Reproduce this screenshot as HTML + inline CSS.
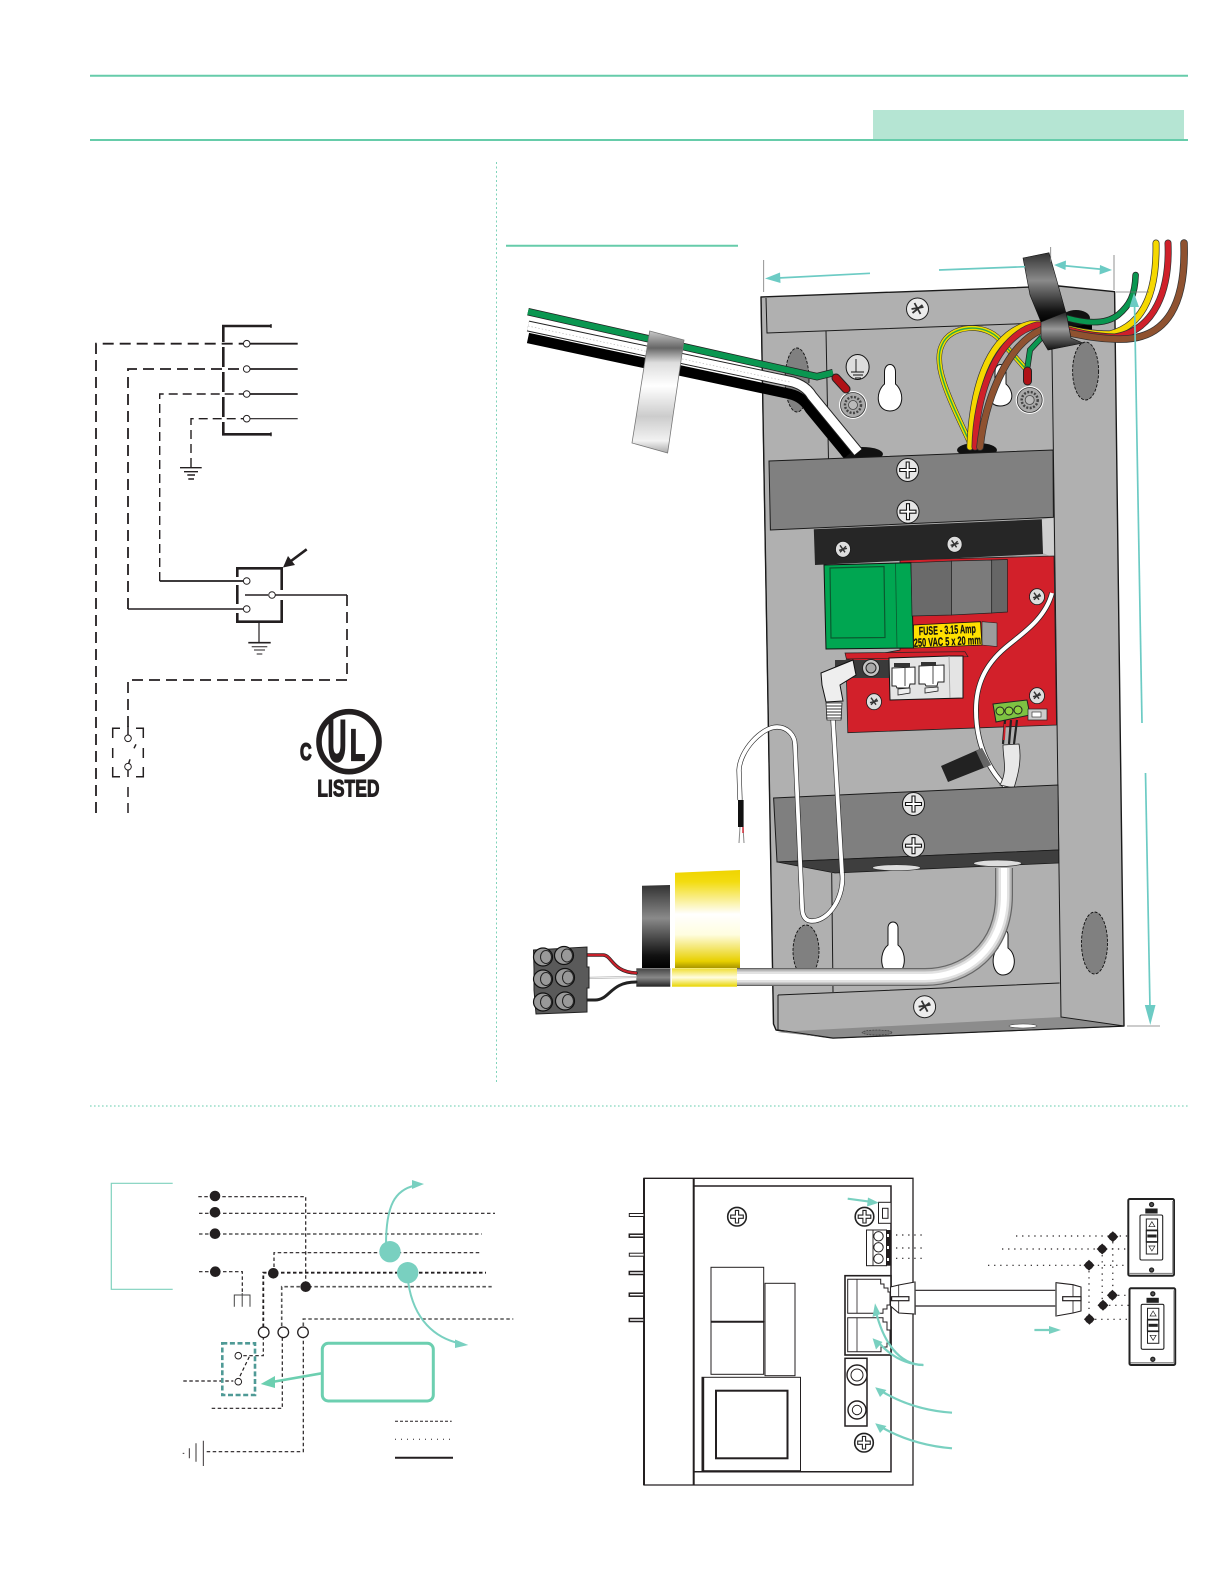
<!DOCTYPE html>
<html><head><meta charset="utf-8"><style>
html,body{margin:0;padding:0;background:#fff}
svg{display:block}
text{font-family:"Liberation Sans",sans-serif;font-weight:bold}
</style></head><body>
<svg width="1225" height="1585" viewBox="0 0 1225 1585" xmlns="http://www.w3.org/2000/svg">
<defs>
<linearGradient id="tapeS" x1="0" y1="0" x2="0" y2="1"><stop offset="0" stop-color="#c9c9c9"/><stop offset=".14" stop-color="#666"/><stop offset=".26" stop-color="#ddd"/><stop offset=".45" stop-color="#fff"/><stop offset=".7" stop-color="#ccc"/><stop offset=".9" stop-color="#f2f2f2"/><stop offset="1" stop-color="#aaa"/></linearGradient>
<linearGradient id="tapeK" x1="0" y1="0" x2="0" y2="1"><stop offset="0" stop-color="#333"/><stop offset=".4" stop-color="#8a8a8a"/><stop offset=".85" stop-color="#111"/><stop offset="1" stop-color="#000"/></linearGradient>
<linearGradient id="tapeK2" x1="0" y1="0" x2="0" y2="1"><stop offset="0" stop-color="#222"/><stop offset=".45" stop-color="#999"/><stop offset="1" stop-color="#111"/></linearGradient>
<linearGradient id="tapeY" x1="0" y1="0" x2="0" y2="1"><stop offset="0" stop-color="#efd400"/><stop offset=".12" stop-color="#f3dc10"/><stop offset=".45" stop-color="#fff"/><stop offset=".66" stop-color="#fffde0"/><stop offset=".93" stop-color="#e8d000"/><stop offset="1" stop-color="#a89500"/></linearGradient>
<linearGradient id="bandY" x1="0" y1="0" x2="0" y2="1"><stop offset="0" stop-color="#f0de30"/><stop offset=".5" stop-color="#fffde0"/><stop offset="1" stop-color="#e8d500"/></linearGradient>
<linearGradient id="bandK" x1="0" y1="0" x2="0" y2="1"><stop offset="0" stop-color="#444"/><stop offset=".5" stop-color="#888"/><stop offset="1" stop-color="#222"/></linearGradient>
<g id="sc"><ellipse rx="11" ry="11.5" fill="#e6e6e6" stroke="#1a1a1a" stroke-width="1"/><path d="M-1.5,-8h3v6.5h6.5v3h-6.5v6.5h-3v-6.5h-6.5v-3h6.5z" fill="#fff" stroke="#111" stroke-width="1.1"/></g>
<g id="hs"><ellipse rx="7.5" ry="8" fill="#dedede" stroke="#1a1a1a" stroke-width=".8"/><path d="M-3,-4L2,3M3,-3L-3,3M-4,1L4,-1" stroke="#333" stroke-width="1.4" fill="none"/></g>
<g id="hb"><ellipse rx="11" ry="11" fill="#ececec" stroke="#222" stroke-width="1"/><path d="M-3,-6L3,5M5,-4L-5,4M-6,0L6,-2" stroke="#333" stroke-width="1.8" fill="none"/></g>
<g id="pl"><circle r="9.3" fill="#fff" stroke="#222" stroke-width="1.6"/><path d="M-1.6,-6.3h3.2v4.7h4.7v3.2h-4.7v4.7h-3.2v-4.7h-4.7v-3.2h4.7z" fill="#fff" stroke="#222" stroke-width="1.1"/></g>
<g id="wash"><circle r="14" fill="#fff"/><circle r="12.5" fill="#aaa" stroke="#333" stroke-width=".8"/><circle r="8" fill="none" stroke="#444" stroke-width="2.5" stroke-dasharray="2 1.5"/><circle r="4.5" fill="#bbb" stroke="#444" stroke-width=".8"/></g>
<g id="plate"><rect width="45.7" height="76.7" rx="1.5" fill="#fff" stroke="#222" stroke-width="2"/><path d="M1,74.5H45M44.5,2V75" stroke="#888" stroke-width="1.3"/><circle cx="23.3" cy="5.5" r="2" fill="#555" stroke="#222" stroke-width="1.3"/><circle cx="23.3" cy="71" r="2" fill="#555" stroke="#222" stroke-width="1.3"/><rect x="17" y="9.5" width="12.3" height="5" fill="#222"/><rect x="11.7" y="16" width="22.7" height="45" rx="1.5" fill="#fff" stroke="#222" stroke-width="1.1"/><rect x="18" y="20" width="11.3" height="11" fill="#fff" stroke="#222"/><rect x="18" y="31.7" width="11.3" height="11" fill="#fff" stroke="#222" stroke-width="1.2"/><rect x="19" y="35.5" width="9.3" height="3" fill="#222"/><rect x="18" y="43.3" width="11.3" height="11.7" fill="#fff" stroke="#222"/><path d="M23.6,22.7l3,5h-6zM23.6,52l3,-5h-6z" fill="#fff" stroke="#222" stroke-width=".7"/></g>
</defs>

<!-- header -->
<path d="M90,75.7H1188M90,140H1188" stroke="#66ccaa" stroke-width="2"/>
<rect x="873" y="110" width="311" height="29" fill="#b5e5d3"/>
<path d="M496.5,162V1084" stroke="#7fd3ba" stroke-width="1" stroke-dasharray="2 2.5"/>
<path d="M90,1106H1188" stroke="#85d6bd" stroke-width="1.3" stroke-dasharray="1.6 2.4"/>
<path d="M506,245.7H738" stroke="#66ccaa" stroke-width="2"/>

<!-- left schematic -->
<g fill="none" stroke="#231f20">
<path d="M271.7,326H223.3V342M223.3,347V367M223.3,372V392M223.3,397V417M223.3,422V434.3H271.7" stroke-width="2.6"/>
<path d="M271,324V328M271,432.3V436.3" stroke-width="1.2"/>
<path d="M96,813V343.7H243" stroke-width="1.8" stroke-dasharray="11 6"/>
<path d="M128,609V369H243" stroke-width="1.8" stroke-dasharray="11 6"/>
<path d="M159.7,581V394H243" stroke-width="1.4" stroke-dasharray="9 5"/>
<path d="M191,467V418.7H243" stroke-width="1.4" stroke-dasharray="9 5"/>
<path d="M250,343.7H297.7M250,369H297.7M250,394H297.7" stroke-width="1.8"/>
<path d="M250,418.7H297.7" stroke-width="1.2"/>
<path d="M180,467.7H201.7" stroke-width="1.3"/><path d="M184,471.7H198M187.3,475H195M188.3,479H194" stroke-width="1.4"/>
<path d="M237.3,577V568.3H281.7V590M281.7,600V621.7H237.3V613M237.3,585V604" stroke-width="2.6"/>
<path d="M159.7,581H243" stroke-width="1.8"/><path d="M128,609H243" stroke-width="1.5"/>
<path d="M245,595H268M275.5,595H347" stroke-width="1.6"/>
<path d="M347,595V680H128V728" stroke-width="1.7" stroke-dasharray="11 6"/>
<path d="M259,621.7V642.7" stroke-width="1.2"/><path d="M248.3,642.7H270.7" stroke-width="1.6"/><path d="M251.7,646.7H267.3M254,650H265M256.7,654H262.3" stroke-width="1"/>
<path d="M306.7,549.3L289,562.5" stroke-width="2.6"/>
<path d="M283,567.5L288,556L295,565Z" fill="#231f20" stroke="none"/>
<path d="M112.7,738V728.3H120M136,728.3H143.3V738M143.3,748V758M143.3,767V776.7H136M120,776.7H112.7V767M112.7,748V758" stroke-width="1.5"/>
<path d="M128,726V735M128,770V777M128,787V797M128,803V813M134,748.3L136,744.3M130,759.3L128.5,764" stroke-width="1.5"/>
<circle cx="246.7" cy="343.7" r="3.3" fill="#fff" stroke-width="1"/><circle cx="246.7" cy="369" r="3.3" fill="#fff" stroke-width="1"/><circle cx="246.7" cy="394" r="3.3" fill="#fff" stroke-width="1"/><circle cx="246.7" cy="418.7" r="3.3" fill="#fff" stroke-width="1"/>
<circle cx="246.7" cy="581" r="3.3" fill="#fff" stroke-width="1"/><circle cx="246.7" cy="609" r="3.3" fill="#fff" stroke-width="1"/><circle cx="272" cy="595" r="3.3" fill="#fff" stroke-width="1"/>
<circle cx="128" cy="738.3" r="3.3" fill="#fff" stroke-width="1"/><circle cx="128" cy="766.7" r="3.3" fill="#fff" stroke-width="1"/>
<circle cx="349" cy="741.7" r="30" stroke-width="5.6"/>
</g>
<text transform="translate(327.5,761) scale(.45,1)" font-size="58" fill="#231f20" stroke="#231f20" stroke-width="2.4">U</text>
<text transform="translate(350,760) scale(.56,1)" font-size="44" fill="#231f20" stroke="#231f20" stroke-width="2.2">L</text>
<text x="337.5" y="758.5" font-size="7" fill="#231f20" style="font-weight:normal">®</text>
<text transform="translate(300,760) scale(.67,1)" font-size="24" fill="#231f20" stroke="#231f20" stroke-width="1.4">C</text>
<text transform="translate(317.3,796.7) scale(.73,1)" font-size="24" fill="#231f20" stroke="#231f20" stroke-width="1">LISTED</text>

<!-- main illustration: enclosure -->
<path d="M761,297L1058.8,286L1114.6,291.7L1124,1026L833,1038L776,1030L773.5,1024Z" fill="#b0b0b0" stroke="#1a1a1a" stroke-width="1.4" stroke-linejoin="round"/>
<path d="M777,1032L1061,1017L1124,1026L833,1038Z" fill="#8c8c8c"/>
<path d="M766,298L767,333L1041,323M761,300L773.5,1024M1050,345L1052,350L1061,1017L1124,1026M1052,350L1041,323M826,331L828.5,460M831.7,873L833,992M778,995L1059.6,983M778,995L778,1030L833,1038L1124,1026M1058.8,286L1050,345" fill="none" stroke="#1a1a1a" stroke-width="1"/>
<ellipse cx="877" cy="1032.5" rx="15" ry="2.5" fill="#777" stroke="#333" stroke-width=".6" stroke-dasharray="2 1"/>
<ellipse cx="1023" cy="1026" rx="14" ry="2" fill="#fff" stroke="#444" stroke-width=".6"/>
<g fill="#808080" stroke="#111" stroke-width=".9" stroke-dasharray="3 1.5">
<ellipse cx="797" cy="380" rx="12" ry="32"/><ellipse cx="1085.6" cy="371" rx="13" ry="29"/><ellipse cx="806" cy="951" rx="13" ry="26"/><ellipse cx="1094.5" cy="943" rx="13" ry="31"/>
</g>
<!-- keyholes -->
<g fill="#fff" stroke="#111" stroke-width="1">
<path d="M884.5,372C884.5,362 895.5,362 895.5,372V384C905,392 904,411 890,411C876,411 875,392 884.5,384Z"/>
<path d="M995,372C995,362 1006,362 1006,372V384C1015,392 1014,406 1000,406C988,406 986,392 995,384Z"/>
<path d="M888,928C888,920 898,920 898,928V945C908,953 906,975 893,975C880,975 878,953 888,945Z"/>
<path d="M998,935C998,928 1008,928 1008,935V948C1018,955 1016,975 1003,975C992,975 990,955 998,948Z"/>
</g>
<use href="#hb" x="917.5" y="309"/><use href="#hb" x="924.6" y="1006.7"/>
<ellipse cx="857.6" cy="367" rx="11.5" ry="12.5" fill="#ddd" stroke="#111" stroke-width="1"/>
<path d="M856,359V372M851,372H864M853,375H863M855,378H861" fill="none" stroke="#111" stroke-width=".9"/>
<use href="#wash" x="853" y="405"/><use href="#wash" x="1029.7" y="400"/>
<ellipse cx="862" cy="454" rx="21" ry="7" fill="#111"/><ellipse cx="977" cy="450" rx="20" ry="7" fill="#111"/>

<!-- left wires -->
<path d="M528,338L790,394Q803,397 810,409L848,455" fill="none" stroke="#000" stroke-width="10.5"/>
<path d="M528,326L793,382Q806,386 812,396L858,452" fill="none" stroke="#222" stroke-width="11"/>
<path d="M528,326L793,382Q806,386 812,396L858,452" fill="none" stroke="#fff" stroke-width="9"/>
<path d="M528,326L790,382" fill="none" stroke="#bbb" stroke-width=".7" stroke-dasharray="1.5 2"/>
<path d="M528,311.7L817,376.7L833,372.7" fill="none" stroke="#222" stroke-width="7.5"/>
<path d="M528,311.7L817,376.7L833,372.7" fill="none" stroke="#0a9650" stroke-width="6"/>
<path d="M836,378L846,389" stroke="#222" stroke-width="9" stroke-linecap="round"/><path d="M836,378L846,389" stroke="#b01116" stroke-width="7" stroke-linecap="round"/>
<path d="M649.7,331L684,340L667.6,453L632,443Z" fill="url(#tapeS)" stroke="#777" stroke-width=".8"/>

<!-- right wires, inside -->
<path d="M971,445C950,400 932,365 942,345C950,325 985,322 1000,340L1025,368" fill="none" stroke="#333" stroke-width="5.5"/>
<path d="M971,445C950,400 932,365 942,345C950,325 985,322 1000,340L1025,368" fill="none" stroke="#f0dc00" stroke-width="4.4"/>
<path d="M971,445C950,400 932,365 942,345C950,325 985,322 1000,340L1025,368" fill="none" stroke="#2aa84a" stroke-width="1.4"/>
<path d="M1027.5,367L1030,350L1042,337" fill="none" stroke="#222" stroke-width="6"/><path d="M1027.5,367L1030,350L1042,337" fill="none" stroke="#0a9650" stroke-width="4.5"/>
<path d="M1027.5,371V381" stroke="#222" stroke-width="9" stroke-linecap="round"/><path d="M1027.5,371V381" stroke="#b01116" stroke-width="7" stroke-linecap="round"/>
<path d="M1067,320H1092V335H1067Z" fill="#000"/>
<ellipse cx="1076" cy="318" rx="14" ry="8" fill="#111"/>
<path d="M1067,318C1085,323 1105,325 1118,315C1130,305 1135,295 1135.6,275" fill="none" stroke="#222" stroke-width="6.5" stroke-linecap="round"/>
<path d="M1067,318C1085,323 1105,325 1118,315C1130,305 1135,295 1135.6,275" fill="none" stroke="#0a9650" stroke-width="5" stroke-linecap="round"/>
<g fill="none" stroke-linecap="round">
<path d="M970,447C972,395 985,335 1030,324C1060,322 1070,334 1110,334C1145,325 1157,290 1156,243" stroke="#333" stroke-width="7"/>
<path d="M970,447C972,395 985,335 1030,324C1060,322 1070,334 1110,334C1145,325 1157,290 1156,243" stroke="#f5d800" stroke-width="5.6"/>
<path d="M975,447C976,395 996,335 1037,325C1065,325 1075,336 1115,337C1155,330 1170,290 1168,243" stroke="#333" stroke-width="7"/>
<path d="M975,447C976,395 996,335 1037,325C1065,325 1075,336 1115,337C1155,330 1170,290 1168,243" stroke="#cf202a" stroke-width="5.6"/>
<path d="M980,447C985,400 1007,345 1041,330C1060,328 1080,338 1115,339C1170,342 1186,300 1184,243" stroke="#333" stroke-width="7.5"/>
<path d="M980,447C985,400 1007,345 1041,330C1060,328 1080,338 1115,339C1170,342 1186,300 1184,243" stroke="#8f5230" stroke-width="6"/>
</g>
<path d="M1023,258L1049,252.7L1066,313L1041,322L1030,295Z" fill="url(#tapeK)" stroke="#111" stroke-width=".6"/>
<path d="M1041,322L1066,312L1071,338L1083,343L1048,350L1041,338Z" fill="url(#tapeK2)" stroke="#111" stroke-width=".6"/>

<!-- panel 1 -->
<path d="M769,461L1053,450L1053.4,517.3L770.4,530Z" fill="#808080" stroke="#1a1a1a" stroke-width="1"/>
<use href="#sc" x="907.7" y="470"/><use href="#sc" x="908" y="511.7"/>
<!-- PCB -->
<path d="M1042,519.5L1053.4,518L1054,558L1043,553Z" fill="#cfcfcf"/>
<path d="M900,560L1054,556L1056.5,725L847.8,732.7L846,660L900,650Z" fill="#d2202a" stroke="#222" stroke-width=".8"/>
<path d="M813.8,529.3L1041.8,519.3L1043,554L815,565Z" fill="#262626"/>
<use href="#hs" x="843" y="549.3"/><use href="#hs" x="954.6" y="544.3"/>
<use href="#hs" x="1037" y="596.7"/><use href="#hs" x="874" y="701.7"/><use href="#hs" x="1037" y="695.7"/>
<path d="M824,565L911,562.7L913.5,648L826,649Z" fill="#00a651" stroke="#111" stroke-width="1"/>
<path d="M830,568L884,566.5L885,637.5L831,638Z" fill="#00a651" stroke="#0a5a30" stroke-width="1.2"/><path d="M895.5,563.5L897,648" stroke="#0a5a30" stroke-width=".8"/>
<path d="M911,562.7L951.5,561V615L912,616Z" fill="#6a6a6a" stroke="#222" stroke-width=".7"/>
<path d="M951.5,561L991.7,560V613L951.5,615Z" fill="#7b7b7b" stroke="#222" stroke-width=".7"/>
<path d="M991.7,560L1007.4,559.5V612L991.7,613Z" fill="#666" stroke="#222" stroke-width=".7"/>
<path d="M982,621.7L997,623V646.5L982,645Z" fill="#9c9c9c" stroke="#222" stroke-width=".6"/>
<path d="M913.5,625L980.5,621.7L982,645L913.5,648Z" fill="#ffe000" stroke="#111" stroke-width=".8"/>
<text transform="rotate(-2.5 947 634)" x="919" y="634" font-size="12" textLength="57" lengthAdjust="spacingAndGlyphs" fill="#111" stroke="#111" stroke-width=".25">FUSE - 3.15 Amp</text>
<text transform="rotate(-2.5 947 645)" x="914" y="645.5" font-size="12" textLength="67" lengthAdjust="spacingAndGlyphs" fill="#111" stroke="#111" stroke-width=".25">250 VAC 5 x 20 mm</text>
<path d="M845,653L965,651.7L968,656.7L846.4,659Z" fill="#d2202a" stroke="#222" stroke-width=".7"/>
<rect x="835" y="660" width="54" height="18" fill="#3a3a3a"/>
<circle cx="871" cy="668" r="8.5" fill="#c4c4c4" stroke="#222"/><circle cx="871" cy="668" r="5" fill="#a8a8a8" stroke="#222"/>
<path d="M889,658L949,656L963,656L963,698L890,700Z" fill="#e4e4e4" stroke="#111" stroke-width="1"/>
<path d="M949,656L950,698" stroke="#999" stroke-width=".8"/>
<path d="M892,668L915,667V684H910L909,688H897L896,686H892ZM919,666L944,665V682H938L937,686H926L925,684H919Z" fill="#fff" stroke="#222" stroke-width="1"/>
<path d="M905,668V686M933,666V684" stroke="#222" stroke-width=".8"/>
<path d="M894,663H910V667H894ZM921,662H936V666H921Z" fill="#333"/>
<path d="M898,689L910,688V693L898,695ZM925,688L938,687V691L925,693Z" fill="#eee" stroke="#222" stroke-width=".8"/>
<!-- white wire on pcb -->
<g fill="none"><path d="M1052,593C1045,620 1020,635 1005,648C985,665 976,685 976,710C976,740 985,765 1005,786" stroke="#222" stroke-width="5.5"/><path d="M1052,593C1045,620 1020,635 1005,648C985,665 976,685 976,710C976,740 985,765 1005,786" stroke="#fff" stroke-width="4"/></g>
<!-- green terminal -->
<path d="M993,704L1027,700L1030,715L996,722Z" fill="#7dc242" stroke="#222" stroke-width="1"/>
<circle cx="1000" cy="711" r="4" fill="#8fd040" stroke="#222"/><circle cx="1009" cy="711" r="4" fill="#8fd040" stroke="#222"/><circle cx="1018" cy="710" r="4" fill="#8fd040" stroke="#222"/>
<rect x="1028" y="709" width="19" height="11" fill="#ccc" stroke="#222" stroke-width=".7"/><rect x="1032" y="712" width="9" height="5" fill="#fff" stroke="#222" stroke-width=".6"/>
<path d="M1005,720L1003,744M1011,720L1009,744M1017,720L1014,744" stroke="#222" stroke-width="2.2"/><path d="M1005,724L1004,740" stroke="#d2202a" stroke-width="1.8"/>
<path d="M1003,745L1019,744C1022,760 1018,775 1014,788L1000,785C1008,770 1003,760 1003,745Z" fill="#e8e8e8" stroke="#222" stroke-width=".8"/>
<path d="M941,766L982,748L991,765L948,782Z" fill="#222"/><path d="M976,751L982,748L991,765L984,768Z" fill="#666"/>
<!-- panel 2 -->
<path d="M773.6,798L1058,785L1058.7,850L777,862Z" fill="#7f7f7f" stroke="#1a1a1a" stroke-width="1"/>
<path d="M777,862L1058.7,850V863L835,873Z" fill="#3e3e3e" stroke="#1a1a1a" stroke-width=".8"/>
<use href="#sc" x="913.5" y="804"/><use href="#sc" x="913.5" y="845.7"/>
<ellipse cx="896.5" cy="867.7" rx="24" ry="3" fill="#ddd" stroke="#333" stroke-width=".7"/>
<ellipse cx="997.5" cy="863.3" rx="24" ry="3.3" fill="#ddd" stroke="#333" stroke-width=".7"/>
<!-- plug & wire -->
<g fill="none">
<path d="M833,720L842,873C845,895 830,921 812,921C802,921 802,910 802,905L795,745C795,735 787,727 777,727C762,727 740,750 739,770L740,800" stroke="#222" stroke-width="5"/>
<path d="M833,720L842,873C845,895 830,921 812,921C802,921 802,910 802,905L795,745C795,735 787,727 777,727C762,727 740,750 739,770L740,800" stroke="#fff" stroke-width="3.8"/>
</g>
<path d="M821,673L853,660L856,675L840,685L843,701L826,702L822,685Z" fill="#eee" stroke="#111" stroke-width="1"/>
<path d="M826,703H842L841,720H827Z" fill="#fff" stroke="#222" stroke-width=".8"/><path d="M826,706H842M826,709H842M826,712H842M826,715H842M826,718H842" stroke="#333" stroke-width="1"/>
<rect x="738" y="800" width="5.6" height="27" fill="#111"/>
<path d="M740,827L739,843M743,827L744,843" stroke="#888" stroke-width="1"/><path d="M743,827V833" stroke="#d2202a" stroke-width="1.4"/>
<!-- lower cable and tapes -->
<g fill="none">
<path d="M1004,868V895C1004,950 965,977 925,977L737,977" stroke="#666" stroke-width="18"/>
<path d="M1004,868V895C1004,950 965,977 925,977L737,977" stroke="#b8b8b8" stroke-width="15.5"/>
<path d="M1004,868V895C1004,950 965,977 925,977L737,977" stroke="#e2e2e2" stroke-width="11"/>
<path d="M1004,868V895C1004,950 965,977 925,977L737,977" stroke="#fff" stroke-width="6"/>
</g>
<path d="M675,872.7L740,870V968H675Z" fill="url(#tapeY)"/>
<path d="M642,885.7L670,885V968H642Z" fill="url(#tapeK)"/>
<rect x="672" y="968.3" width="65" height="18.4" fill="url(#bandY)"/>
<rect x="636.3" y="968.3" width="34" height="18.4" fill="url(#bandK)"/>
<!-- terminal strip -->
<g fill="none" stroke-linecap="round">
<path d="M582,955H603C612,955 612,972 636,973" stroke="#222" stroke-width="3.5"/><path d="M582,955H603C612,955 612,972 636,973" stroke="#c8202a" stroke-width="2.2"/>
<path d="M582,1000H595C610,1000 610,982 636,982" stroke="#222" stroke-width="3"/>
<path d="M582,978L636,977" stroke="#aaa" stroke-width="2"/><path d="M582,978L636,977" stroke="#fff" stroke-width=".8"/>
</g>
<path d="M533.5,950L587,947V967H589V988H587V1012L536,1014L534,990V969Z" fill="#5a5a5a" stroke="#222" stroke-width="1"/>
<g fill="#999" stroke="#111" stroke-width="1.2">
<ellipse cx="543" cy="957" rx="9.5" ry="9"/><ellipse cx="564" cy="955.5" rx="9.5" ry="9"/>
<ellipse cx="543" cy="979" rx="9.5" ry="9"/><ellipse cx="565" cy="977.5" rx="9.5" ry="9"/>
<ellipse cx="543" cy="1002" rx="9.5" ry="9"/><ellipse cx="565" cy="1001" rx="9.5" ry="9"/>
</g>
<g fill="none" stroke="#222" stroke-width="1"><ellipse cx="546" cy="957" rx="5.5" ry="6.5"/><ellipse cx="567" cy="955.5" rx="5.5" ry="6.5"/><ellipse cx="546" cy="979" rx="5.5" ry="6.5"/><ellipse cx="568" cy="977.5" rx="5.5" ry="6.5"/><ellipse cx="546" cy="1002" rx="5.5" ry="6.5"/><ellipse cx="568" cy="1001" rx="5.5" ry="6.5"/></g>

<!-- dimension arrows -->
<g stroke="#6ccbc4" stroke-width="1.7" fill="none">
<path d="M778,278L870,273.3"/><path d="M939,270L1025,266.7"/><path d="M1062,265.5L1104,269.5"/>
<path d="M1134.5,302L1142,723"/><path d="M1145.5,773L1150,1008"/>
</g>
<g fill="#6ccbc4" stroke="none">
<path d="M765,278.5L780,272.5L780.5,283Z"/>
<path d="M1054,265L1066,260.5L1065.5,270Z"/><path d="M1112,270L1100,265L1099.5,274.5Z"/>
<path d="M1134,293L1129.5,307L1139,307Z"/>
<path d="M1150.3,1025L1144.8,1005H1155.5Z"/>
</g>
<g stroke="#777" stroke-width=".8" fill="none"><path d="M763.7,260V292M1050.7,247V262M1114,255V290M1116,292H1149M1127,1026H1160"/></g>

<!-- bottom-left schematic -->
<path d="M172.7,1183.3H111.3V1289.3H172.7" fill="none" stroke="#7fd1bd" stroke-width="1.2"/>
<g fill="none" stroke="#231f20" stroke-width="1.2" stroke-dasharray="3.5 2.5">
<path d="M198.3,1196.7H305.7V1286.7"/><path d="M199,1213.3H495"/>
<path d="M199,1234H481.7" stroke="#555" stroke-width="1.6"/>
<path d="M274,1273V1252.7H481.7"/>
<path d="M263.3,1327V1272.7H486" stroke-width="1.8"/>
<path d="M281.7,1326V1286.7H491.7" stroke="#555" stroke-width="1.6"/>
<path d="M303.3,1326V1319H513.3" stroke="#555" stroke-width="1.6"/>
<path d="M199,1271.7H242.3V1293"/>
<path d="M243.3,1355.7H263.3V1338"/>
<path d="M249.3,1356.7L239.7,1376.7"/>
<path d="M183.3,1381H233.3"/>
<path d="M211.7,1408.3H282.3V1338"/>
<path d="M206.7,1451.7H303.3V1338"/>
</g>
<path d="M234.3,1306.7V1295H250V1306.7M242.2,1293V1306.7" fill="none" stroke="#444" stroke-width="1"/>
<path d="M182.7,1453.3H184.3M189.3,1448.3V1458.3M196,1443.3V1461.7M203.3,1440.7V1466" fill="none" stroke="#231f20" stroke-width=".9"/>
<g fill="#231f20"><circle cx="215" cy="1196" r="5.3"/><circle cx="215" cy="1212.3" r="5.3"/><circle cx="215" cy="1233.7" r="5.3"/><circle cx="215.3" cy="1271.7" r="5.3"/><circle cx="273.3" cy="1273.3" r="5.3"/><circle cx="305.7" cy="1286.7" r="5.3"/></g>
<g fill="#fff" stroke="#231f20" stroke-width="1.3"><circle cx="263.7" cy="1332.3" r="5.3"/><circle cx="283.3" cy="1332.3" r="5.3"/><circle cx="303" cy="1332.3" r="5.3"/></g>
<rect x="222.3" y="1343.3" width="32.7" height="51.7" fill="none" stroke="#4f9a96" stroke-width="2.6" stroke-dasharray="5 2.6"/>
<g fill="#fff" stroke="#231f20" stroke-width="1"><circle cx="238.3" cy="1355.7" r="3.3"/><circle cx="238.3" cy="1381.7" r="3.3"/></g>
<g fill="#79d0c0"><circle cx="390" cy="1251.7" r="10.7"/><circle cx="407.7" cy="1272.7" r="10.7"/></g>
<g fill="none" stroke="#79d0c0" stroke-width="2">
<path d="M386,1245C386,1205 395,1190 415,1185.5"/>
<path d="M408.3,1283C414,1320 435,1338 460,1343.5"/>
</g>
<g fill="#79d0c0"><path d="M424,1184L412,1180L412,1189Z"/><path d="M468.3,1345L455,1339.5L455,1348Z"/></g>
<rect x="322.3" y="1343.3" width="111" height="57.7" rx="6" fill="#fff" stroke="#6ccfb0" stroke-width="3"/>
<path d="M321.7,1373.3L272,1382" stroke="#6ccfb0" stroke-width="2.6" fill="none"/>
<path d="M260.7,1384L275,1376L275,1388Z" fill="#6ccfb0"/>
<path d="M395,1421.3H451.7" stroke="#231f20" stroke-width="1" stroke-dasharray="3 2" fill="none"/>
<path d="M395,1439.3H451.7" stroke="#231f20" stroke-width="1" stroke-dasharray="1 5" fill="none"/>
<path d="M395,1457.7H453" stroke="#231f20" stroke-width="2" fill="none"/>

<!-- bottom-right diagram -->
<g fill="none" stroke="#231f20">
<path d="M644,1485V1178.3H913V1485H644Z" stroke-width="1.3"/>
<path d="M644,1485V1178.3" stroke-width="2"/>
<path d="M693.7,1178.3V1485" stroke-width="2"/>
<path d="M693.7,1186H891V1471.7H693.7" stroke-width="1.5"/>
</g>
<g fill="#fff" stroke="#231f20" stroke-width="1">
<rect x="629.3" y="1213.5" width="14.7" height="3"/><rect x="629.3" y="1234.2" width="14.7" height="3" stroke-width="1.5"/><rect x="629.3" y="1253.2" width="14.7" height="3"/><rect x="629.3" y="1271.5" width="14.7" height="3" stroke-width="1.5"/><rect x="629.3" y="1293.2" width="14.7" height="3" stroke-width="1.5"/><rect x="629.3" y="1318.5" width="14.7" height="3" stroke-width="1.5"/>
<rect x="711" y="1267.3" width="52.7" height="54.4"/><rect x="711" y="1321.7" width="52.7" height="52.6"/>
<rect x="765" y="1283.3" width="30" height="92.4"/>
<rect x="702" y="1377.3" width="98.5" height="93.4"/>
<rect x="716" y="1390.7" width="71.5" height="67.6" stroke-width="2"/>
<rect x="845" y="1275.7" width="46" height="79.3" stroke-width="1.6"/>
<rect x="845" y="1358.3" width="22" height="67.7" stroke-width="1.5"/>
<rect x="878.5" y="1202.3" width="12.5" height="21"/><rect x="882.5" y="1208.3" width="5.5" height="10"/>
<rect x="866.5" y="1230" width="20" height="35.7"/>
</g>
<path d="M711,1321.7H763.7" stroke="#231f20" stroke-width="2"/><path d="M703.2,1377.3V1470.7" stroke="#231f20" stroke-width="2"/>
<path d="M873,1230V1265.7" stroke="#231f20" stroke-width=".9"/>
<rect x="886.5" y="1230" width="4.5" height="35.7" fill="#231f20"/><path d="M888,1234v3M888,1246v3M888,1258v3" stroke="#fff" stroke-width="2"/>
<g fill="#fff" stroke="#231f20" stroke-width="1"><circle cx="878.5" cy="1236.3" r="4.7"/><circle cx="878.5" cy="1247.3" r="4.7"/><circle cx="878.5" cy="1258.7" r="4.7"/></g>
<use href="#pl" x="737" y="1216.7"/><use href="#pl" x="864.5" y="1216.7"/><use href="#pl" x="864" y="1442.7"/>
<!-- jacks -->
<g transform="translate(-2,0)">
<g fill="#fff" stroke="#231f20" stroke-width="1">
<path d="M849.7,1279.3H882.7V1284H886V1288H890V1292H892V1305H889V1309H885V1313.3H849.7Z"/>
<path d="M849.7,1317.7H885V1322H889V1330H892V1343H889V1347H883V1351.7H849.7Z"/>
</g>
<path d="M859,1279.3V1313.3M859,1317.7V1351.7" stroke="#231f20" stroke-width=".8"/>
<g fill="#fff" stroke="#231f20"><circle cx="859" cy="1375" r="10" stroke-width="1.4"/><circle cx="859" cy="1375" r="6" stroke-width="1"/><circle cx="859" cy="1410" r="9" stroke-width="1.4"/><circle cx="859" cy="1410" r="4.7" stroke-width="1"/></g>
<!-- plug -->
<path d="M892.5,1287L900.7,1285L917,1282L917.4,1314L900.7,1313L892.5,1306Z" fill="#fff" stroke="#231f20" stroke-width="1.1"/><path d="M917,1282V1314" stroke="#666" stroke-width="1.6"/><path d="M900.7,1285V1313" stroke="#231f20" stroke-width=".8"/>
<rect x="893.6" y="1296.7" width="17.3" height="4" fill="#fff" stroke="#231f20" stroke-width="1.2"/>
</g>
<path d="M915.4,1290.3H1056M915.4,1306H1056" stroke="#231f20" stroke-width="1.2"/>
<g transform="translate(-3,0)">
<path d="M1059,1282.7L1076,1284.7L1084,1287V1311L1076,1313L1059,1316Z" fill="#fff" stroke="#231f20" stroke-width="1.1"/><path d="M1059,1283V1316" stroke="#666" stroke-width="1.6"/><path d="M1076,1285V1313" stroke="#231f20" stroke-width=".8"/>
<rect x="1065.7" y="1296.7" width="18.3" height="4" fill="#fff" stroke="#231f20" stroke-width="1.2"/>
</g>
<!-- teal pointers -->
<g transform="translate(-2,0)">
<g fill="none" stroke="#79d0c0" stroke-width="2.2">
<path d="M849.7,1198.7L872,1201.7"/><path d="M1036.4,1330H1053"/>
<path d="M925.5,1365C900,1365 885,1340 878,1312"/><path d="M925,1365Q900,1364 881,1343"/>
<path d="M954,1412.7Q915,1410 884,1391.5"/><path d="M954,1448.3Q915,1445 884,1427.5"/>
</g>
<g fill="#79d0c0">
<path d="M880.8,1202.7L870,1197.5L869,1206.5Z"/><path d="M1063,1330L1051,1326V1334Z"/>
<path d="M877,1303.3L874.5,1317L882.5,1314Z"/><path d="M874.6,1338.3L878,1349.5L884.5,1342Z"/>
<path d="M877.2,1387.3L882,1397L888.5,1390Z"/><path d="M877.2,1423.3L882,1433L888.5,1426Z"/>
</g>
</g>
<!-- dotted runs -->
<g fill="none" stroke="#231f20" stroke-width="1.2" stroke-dasharray="1.3 4.8">
<path d="M896,1235H925.5M896,1248H925.5M896,1258.3H925.5"/>
<path d="M1016,1236H1128M1002,1249H1128M988,1265.3H1128M1112,1295.3H1129M1103,1305.3H1129M1089,1319.3H1129"/>
<path d="M1112.8,1236V1295M1102.2,1249V1305M1089,1265V1319"/>
</g>
<g fill="#231f20">
<circle cx="1112.8" cy="1236.7" r="4.2"/><circle cx="1102.2" cy="1249" r="4.2"/><circle cx="1089" cy="1265.3" r="4.2"/><circle cx="1112.4" cy="1295.3" r="4.2"/><circle cx="1103" cy="1305.3" r="4.2"/><circle cx="1089.4" cy="1319.3" r="4.2"/>
<path d="M1112.8,1231.2l5.5,5.5l-5.5,5.5l-5.5,-5.5z"/><path d="M1102.2,1243.5l5.5,5.5l-5.5,5.5l-5.5,-5.5z"/><path d="M1089,1259.8l5.5,5.5l-5.5,5.5l-5.5,-5.5z"/><path d="M1112.4,1289.8l5.5,5.5l-5.5,5.5l-5.5,-5.5z"/><path d="M1103,1299.8l5.5,5.5l-5.5,5.5l-5.5,-5.5z"/><path d="M1089.4,1313.8l5.5,5.5l-5.5,5.5l-5.5,-5.5z"/>
</g>
<use href="#plate" x="1128.3" y="1199"/>
<use href="#plate" x="1129.5" y="1288.3"/>
</svg>
</body></html>
